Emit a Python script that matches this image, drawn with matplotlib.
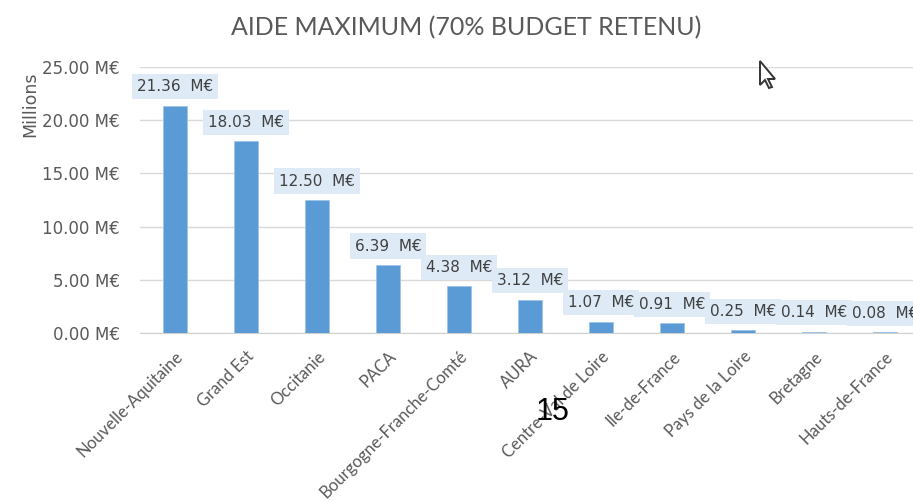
import matplotlib
matplotlib.use("Agg")
import matplotlib.pyplot as plt
import matplotlib.transforms as mtransforms
from matplotlib.patches import Polygon

regions = ["Nouvelle-Aquitaine", "Grand Est", "Occitanie", "PACA",
           "Bourgogne-Franche-Comté", "AURA", "Centre-Val de Loire",
           "Ile-de-France", "Pays de la Loire", "Bretagne", "Hauts-de-France"]
values = [21.36, 18.03, 12.50, 6.39, 4.38, 3.12, 1.07, 0.91, 0.25, 0.14, 0.08]
yticks = [0, 5, 10, 15, 20, 25]

W, H = 913, 501
fig = plt.figure(figsize=(W / 100, H / 100), dpi=100)
x0, x1 = 139.5, 920.5
ytop, ybot = 67, 333
ax = fig.add_axes([x0 / W, 1 - ybot / H, (x1 - x0) / W, (ybot - ytop) / H])

xs = list(range(len(regions)))
ax.bar(xs, values, width=0.33, color="#5B9BD5", edgecolor="#9DC3E6", linewidth=0.6, zorder=3)
ax.set_xlim(-0.5, len(regions) - 0.5)
ax.set_ylim(0, 25)
ax.set_yticks(yticks)
ax.set_yticklabels([f"{v:.2f} M€" for v in yticks], fontsize=12, color="#595959",
                   family="DejaVu Sans")
ax.set_xticks(xs)
ax.set_xticklabels(regions, rotation=45, ha="right", rotation_mode="anchor",
                   fontsize=12, color="#595959", family="Lato")
shift = mtransforms.ScaledTranslation(-3 / 100, 0, fig.dpi_scale_trans)
for lab in ax.get_xticklabels():
    lab.set_transform(lab.get_transform() + shift)
ax.tick_params(axis="both", length=0)
ax.tick_params(axis="y", pad=14)
ax.tick_params(axis="x", pad=11)
for s in ["top", "right", "left"]:
    ax.spines[s].set_visible(False)
ax.spines["bottom"].set_color("#D0D0D0")
ax.grid(axis="y", color="#D9D9D9", linewidth=1, zorder=0)

for xv, v in zip(xs, values):
    ax.annotate(f"{v:.2f}  M€", (xv, v), xytext=(0, 19), textcoords="offset pixels",
                ha="center", va="center", fontsize=11, color="#404040",
                family="DejaVu Sans", zorder=5,
                bbox=dict(boxstyle="square,pad=0.33", fc="#DEEBF7", ec="none"))

fig.text(466 / W, 1 - 28 / H, "AIDE MAXIMUM (70% BUDGET RETENU)", ha="center", va="center",
         fontsize=18, color="#595959", family="Lato")
fig.text(30 / W, 1 - 104 / H, "Millions", rotation=90, ha="center", va="center",
         fontsize=12.5, color="#595959", family="DejaVu Sans")
fig.text(553 / W, 1 - 412 / H, "15", ha="center", va="center", fontsize=22, color="black",
         family="Liberation Sans")

# mouse cursor
cx, cy = 760, 61
pts = [(0, 0), (0, 24), (5, 19), (9, 27), (12, 26), (8, 18), (15, 18)]
cur = Polygon([((cx + px) / W, 1 - (cy + py) / H) for px, py in pts], closed=True,
              transform=fig.transFigure, fc="white", ec="#333333", lw=1.4)
fig.patches.append(cur)

fig.savefig("out.png", dpi=100)
